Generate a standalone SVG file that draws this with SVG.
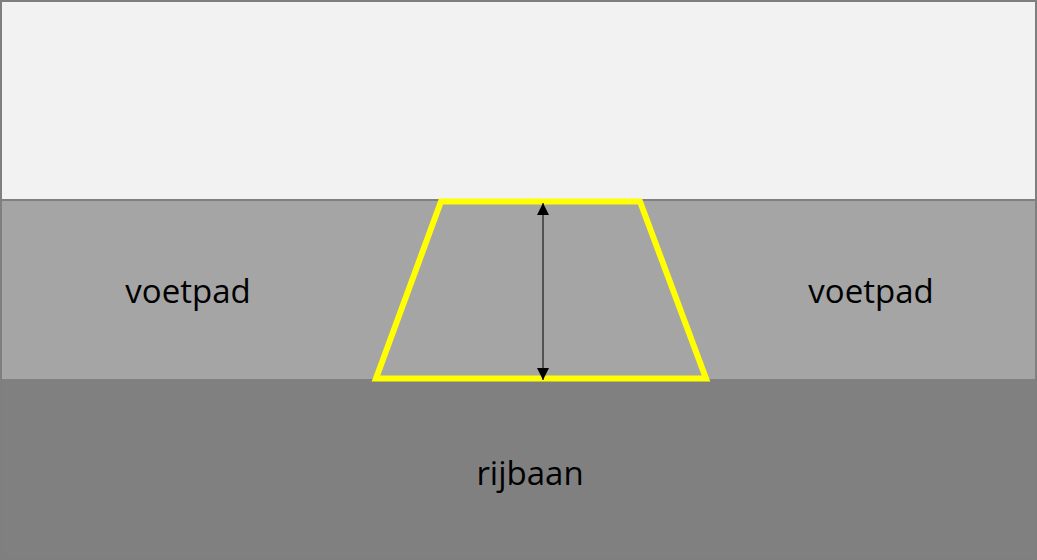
<svg xmlns="http://www.w3.org/2000/svg" width="1037" height="560" viewBox="0 0 1037 560">
<style>
.lbl{font-family:"Open Sans","Noto Sans",sans-serif;font-size:33px;fill:#000;text-anchor:middle}
</style>
<defs>
<marker id="ah2" viewBox="0 0 12 12" refX="12" refY="6" markerWidth="12" markerHeight="12" orient="auto-start-reverse" markerUnits="userSpaceOnUse">
<path d="M0,0 L12,6 L0,12 z" fill="#000"/>
</marker>
</defs>
<g id="sky"><rect x="0" y="0" width="1037" height="200" fill="#f2f2f2"/></g>
<g id="sidewalk"><rect x="0" y="200" width="1037" height="179" fill="#a5a5a5"/>
<line x1="0" y1="200" x2="1037" y2="200" stroke="#7f7f7f" stroke-width="2"/></g>
<g id="road"><rect x="0" y="379" width="1037" height="181" fill="#808080"/></g>
<g id="frame"><rect x="1" y="1" width="1035" height="558" fill="none" stroke="#7f7f7f" stroke-width="2"/></g>
<g id="ramp"><polygon points="441,201.5 640,201.5 706,378.5 376,378.5" fill="none" stroke="#ffff00" stroke-width="6" stroke-linejoin="miter"/></g>
<g id="connectors"><line x1="543" y1="203" x2="543" y2="380" stroke="#000" stroke-width="1" marker-start="url(#ah2)" marker-end="url(#ah2)"/></g>
<g id="label-left"><text class="lbl" x="188" y="303">voetpad</text></g>
<g id="label-right"><text class="lbl" x="871" y="303">voetpad</text></g>
<g id="label-road"><text class="lbl" x="530" y="485">rijbaan</text></g>
</svg>
